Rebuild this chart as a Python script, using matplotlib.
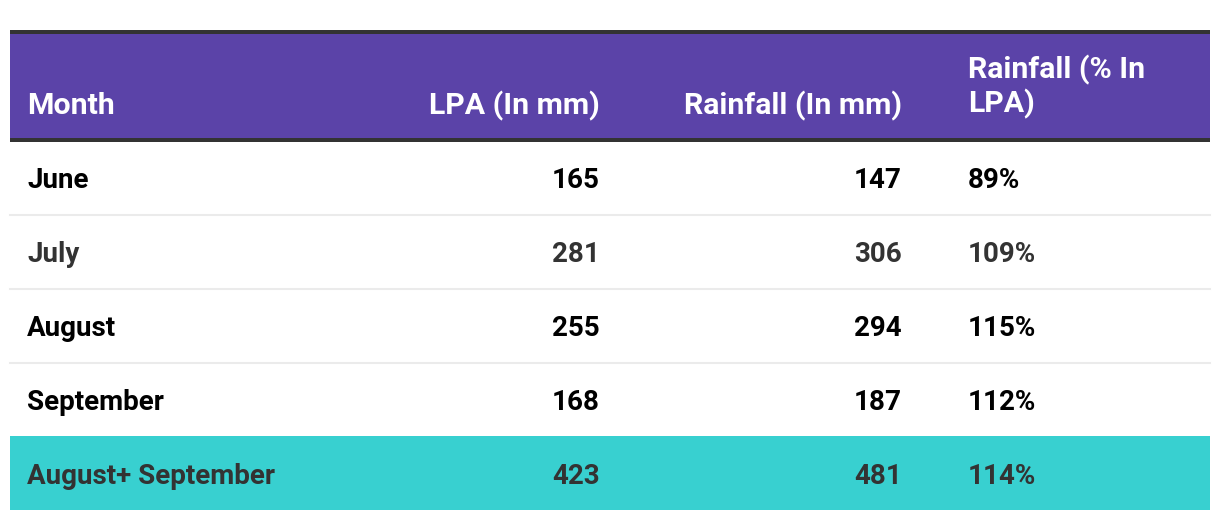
import matplotlib.pyplot as plt
from matplotlib.patches import Rectangle

months = ['June', 'July', 'August', 'September', 'August+ September']
lpa = [165, 281, 255, 168, 423]
rainfall = [147, 306, 294, 187, 481]
pct = ['89%', '109%', '115%', '112%', '114%']
headers = ['Month', 'LPA (In mm)', 'Rainfall (In mm)', 'Rainfall (% In\nLPA)']

purple = '#5B43A8'
teal = '#38D0D0'
dark = '#333333'
text_colors = ['#000000', '#333333', '#000000', '#000000', '#333333']

plt.rcParams['font.family'] = ['Roboto', 'DejaVu Sans']

W, H = 1220, 520
fig = plt.figure(figsize=(W / 100, H / 100), dpi=100)
ax = fig.add_axes([0, 0, 1, 1])
ax.set_xlim(0, W)
ax.set_ylim(H, 0)
ax.axis('off')

left, right = 10, 1210
hsize, bsize = 21.8, 20

# header band
ax.add_patch(Rectangle((left, 34), right - left, 104, color=purple, lw=0))
ax.add_patch(Rectangle((left, 30), right - left, 4, color=dark, lw=0))
ax.add_patch(Rectangle((left, 138), right - left, 4, color=dark, lw=0))

hy = 106
ax.text(27, hy, headers[0], color='white', fontsize=hsize, fontweight='bold', va='center', ha='left')
ax.text(600, hy, headers[1], color='white', fontsize=hsize, fontweight='bold', va='center', ha='right')
ax.text(902, hy, headers[2], color='white', fontsize=hsize, fontweight='bold', va='center', ha='right')
ax.text(968, 87, headers[3], color='white', fontsize=hsize, fontweight='bold', va='center', ha='left',
        linespacing=1.2)

row_h = 74
top = 140
for i, m in enumerate(months):
    y0 = top + i * row_h
    if i == len(months) - 1:
        ax.add_patch(Rectangle((left, 436), right - left, 74, color=teal, lw=0))
    elif i > 0:
        ax.plot([left, right], [y0 + 0.5, y0 + 0.5], color='#EBEBEB', lw=1.5)
    yc = y0 + 41
    c = text_colors[i]
    ax.text(27, yc, m, color=c, fontsize=bsize, fontweight='bold', va='center', ha='left')
    ax.text(600, yc, str(lpa[i]), color=c, fontsize=bsize, fontweight='bold', va='center', ha='right')
    ax.text(902, yc, str(rainfall[i]), color=c, fontsize=bsize, fontweight='bold', va='center', ha='right')
    ax.text(968, yc, pct[i], color=c, fontsize=bsize, fontweight='bold', va='center', ha='left')

fig.savefig('out.png', dpi=100, facecolor='white')
